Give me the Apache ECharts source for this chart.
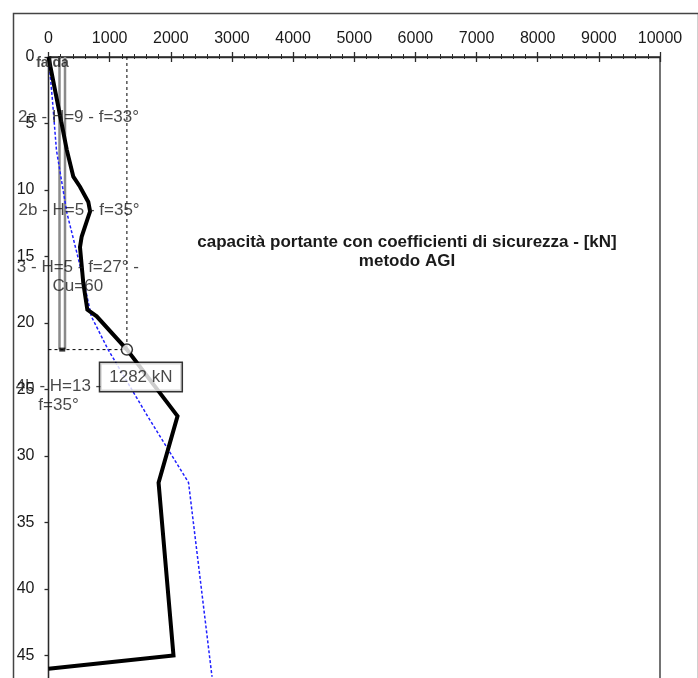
<!DOCTYPE html>
<html>
<head>
<meta charset="utf-8">
<script src="https://cdn.jsdelivr.net/npm/echarts@6/dist/echarts.min.js"></script>
<style>
  html, body { margin: 0; padding: 0; background: #fff; }
  #chart { width: 698px; height: 678px; }
</style>
</head>
<body>
<div id="chart"></div>
<script>
// Profondità [m] (asse verticale) e carico [kN] (asse orizzontale)
const loadMin = 0, loadMax = 10000, loadStep = 1000;
const depthMin = 0, depthMax = 48, depthStep = 5;

// Capacità portante con coefficienti di sicurezza, metodo AGI: [kN, m]
const capacityAGI = [
  [0, 0], [300, 7], [406, 9], [515, 9.75], [651, 10.9], [680, 11.6], [651, 12],
  [543, 13.5], [515, 14.3], [569, 17], [635, 19], [788, 19.5], [1282, 22],
  [2110, 27], [1800, 32], [2044, 45], [0, 46]
];

// Seconda curva (tratteggiata blu): [kN, m]
const capacityAlt = [
  [0, 0], [60, 3], [130, 7], [300, 11.7], [560, 16.5], [700, 19.5], [975, 22],
  [1620, 27], [2290, 32], [2674, 46.6]
];

// Palo: bordi [kN] e profondità della punta [m]
const pileEdges = [180, 270];
const pileToe = 22;

// Carico di progetto alla punta
const designLoad = 1282;
const designDepth = 22;

// Strati: descrizione e profondità media [m]
const layerNames = ['2a - H=9 - f=33°', '2b - H=5 - f=35°', '3 - H=5 - f=27° -\nCu=60', '4b - H=13 -\nf=35°'];
const layerMid = [4.5, 11.5, 16.5, 25.5];

const FONT = '"Liberation Sans", Arial, sans-serif';
const INK = '#1a1a1a';

const chart = echarts.init(document.getElementById('chart'), null, { renderer: 'canvas' });

const gridBox = { left: 48.5, top: 57, width: 611.5, height: 638.4, outerBoundsMode: 'none', containLabel: false };

// anchor of each layer caption, in kN
const layerAnchor = [490, 500, 480, 164];

const series = [
  // pile outline
  ...pileEdges.map(x => ({
    type: 'line', xAxisIndex: 0, yAxisIndex: 0, z: 2,
    data: [[x, 0], [x, pileToe]], showSymbol: false, silent: true,
    lineStyle: { color: '#8a8a8a', width: 2.5 }
  })),
  {
    type: 'scatter', z: 4, silent: true,
    data: [[(pileEdges[0] + pileEdges[1]) / 2, pileToe]],
    symbol: 'rect', symbolSize: [6, 4], itemStyle: { color: '#000' }
  },
  // reference guides for the design load
  {
    type: 'line', z: 3, silent: true, showSymbol: false,
    data: [[0, designDepth], [designLoad, designDepth]],
    lineStyle: { color: '#000', width: 1, type: [3, 3] }
  },
  {
    type: 'line', z: 3, silent: true, showSymbol: false,
    data: [[designLoad, depthMin], [designLoad, designDepth]],
    lineStyle: { color: '#000', width: 1, type: [3, 3] }
  },
  // blue dashed curve
  {
    type: 'line', z: 4, silent: true, showSymbol: false,
    data: capacityAlt,
    lineStyle: { color: '#1f1fff', width: 1.5, type: [3, 2] }
  },
  // main capacity curve
  {
    type: 'line', z: 5, silent: true, showSymbol: false,
    data: capacityAGI,
    lineStyle: { color: '#000', width: 4, join: 'miter' }
  },
  // design load marker + label, on its own layer above the curves
  {
    type: 'scatter', zlevel: 1, z: 8, silent: true,
    data: [[designLoad, designDepth]],
    symbol: 'circle', symbolSize: 11,
    itemStyle: { color: '#fff', borderColor: '#000', borderWidth: 1.5 },
    label: {
      show: true, position: 'inside', offset: [14, 27.5],
      formatter: designLoad + ' kN',
      fontFamily: FONT, fontSize: 17, color: INK,
      backgroundColor: '#fff', borderColor: '#000', borderWidth: 1.5,
      padding: [6, 9, 5, 9], align: 'center', verticalAlign: 'middle'
    }
  },
  // water table caption
  {
    type: 'scatter', zlevel: 1, z: 9, silent: true,
    data: [[0, 0]], symbolSize: 0,
    label: {
      show: true, position: 'inside', offset: [4, 6],
      formatter: 'falda', fontFamily: FONT, fontSize: 14, fontWeight: 'bold',
      color: INK, align: 'center', verticalAlign: 'middle'
    }
  },
  // layer captions
  {
    type: 'scatter', zlevel: 1, z: 9, silent: true, symbolSize: 0,
    data: layerNames.map((n, i) => ({ value: [layerAnchor[i], layerMid[i]], name: n })),
    label: {
      show: true, position: 'inside', formatter: p => p.name,
      fontFamily: FONT, fontSize: 17, lineHeight: 19, color: INK,
      align: 'center', verticalAlign: 'middle'
    }
  }
];

chart.setOption({
  animation: false,
  backgroundColor: '#fff',
  grid: [
    Object.assign({ show: true, borderColor: '#2a2a2a', borderWidth: 1.3, backgroundColor: 'transparent' }, gridBox),
    Object.assign({ show: false }, gridBox)
  ],
  xAxis: [
    {
      type: 'value', gridIndex: 0, position: 'top',
      min: loadMin, max: loadMax, interval: loadStep,
      axisLine: { show: true, lineStyle: { color: '#2a2a2a', width: 1.3 } },
      axisTick: { show: true, inside: false, length: 5, lineStyle: { color: '#2a2a2a', width: 1.3 } },
      minorTick: { show: true, splitNumber: 5, length: 3, lineStyle: { color: '#2a2a2a', width: 1 } },
      axisLabel: { show: true, margin: 10, fontFamily: FONT, fontSize: 16, color: INK, formatter: v => String(v) },
      splitLine: { show: false }
    },
    {
      type: 'value', gridIndex: 1, position: 'top',
      min: loadMin, max: loadMax, interval: loadStep,
      axisLine: { show: false },
      axisTick: { show: true, inside: true, length: 5, lineStyle: { color: '#2a2a2a', width: 1.3 } },
      minorTick: { show: true, splitNumber: 5, length: 2, lineStyle: { color: '#2a2a2a', width: 1 } },
      axisLabel: { show: false },
      splitLine: { show: false }
    }
  ],
  yAxis: [
    {
      type: 'value', gridIndex: 0, inverse: true,
      min: depthMin, max: depthMax, interval: depthStep,
      axisLine: { show: true, lineStyle: { color: '#2a2a2a', width: 1.3 } },
      axisTick: { show: true, inside: false, length: 4, lineStyle: { color: '#2a2a2a', width: 1.3 } },
      axisLabel: { show: true, margin: 14, fontFamily: FONT, fontSize: 16, color: INK, showMaxLabel: false, formatter: v => String(v) },
      splitLine: { show: false }
    },
    {
      type: 'value', gridIndex: 1, inverse: true, show: false,
      min: depthMin, max: depthMax
    }
  ],
  graphic: [
    {
      type: 'rect', left: 11, top: 11, silent: true,
      shape: { x: 0, y: 0, width: 685, height: 720 },
      style: { fill: 'none', stroke: '#444', lineWidth: 1.5 }
    },
    {
      type: 'text', x: 407, y: 252, silent: true,
      style: {
        text: 'capacità portante con coefficienti di sicurezza - [kN]\nmetodo AGI',
        font: 'bold 17px ' + FONT, fill: INK, align: 'center', verticalAlign: 'middle', lineHeight: 19
      }
    }
  ],
  series: series
});
</script>
</body>
</html>
